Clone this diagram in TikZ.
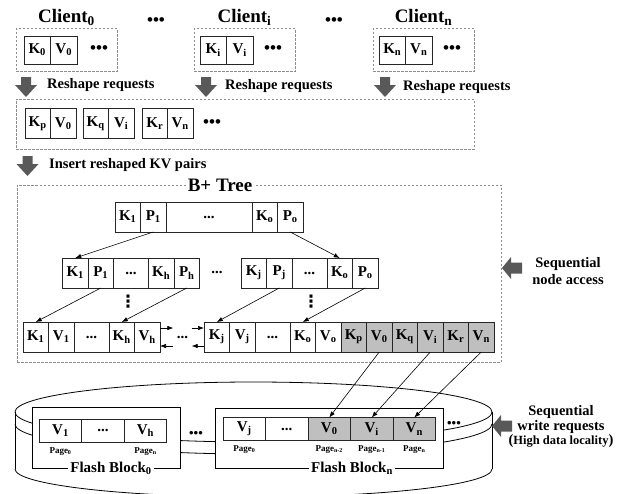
\documentclass[tikz,border=0pt]{standalone}
\usepackage{fontspec}
\setmainfont{Liberation Serif}
\newfontfamily\dotsfont{DejaVu Sans}
\usetikzlibrary{arrows.meta,positioning}
\newcommand{\kvi}[2]{#1\textsubscript{#2}}

\begin{document}
\begin{tikzpicture}[
    x=1pt, y=-1pt,
    every node/.style={font=\bfseries\fontsize{15}{17}\selectfont},
    cell/.style={
      draw=black!85, line width=0.8pt,
      minimum width=25.5pt, minimum height=30pt,
      inner sep=0pt, outer sep=0pt
    },
    ccell/.style={cell, minimum width=26.5pt, minimum height=28pt},
    wcell/.style={cell, minimum width=35pt},
    gcell/.style={cell, fill=gray!50},
    pcell/.style={cell, minimum width=42.5pt, minimum height=23pt},
    dbox/.style={
      draw=black!45, line width=0.7pt, dash pattern=on 2.5pt off 1.5pt,
      inner sep=0pt, outer sep=0pt
    },
    fblock/.style={draw, fill=white, line width=0.8pt, inner sep=0pt},
    title/.style={font=\bfseries\fontsize{19}{21}\selectfont, inner sep=1pt},
    note/.style={font=\bfseries\fontsize{14.5}{17}\selectfont, inner sep=1pt},
    pagelab/.style={font=\bfseries\fontsize{9}{10}\selectfont, inner sep=1pt},
    bullets/.style={font=\bfseries\fontsize{17}{17}\selectfont, inner sep=0pt},
    vdotsnode/.style={font=\dotsfont\bfseries\fontsize{17}{17}\selectfont, inner sep=0pt},
    fatdown/.pic={
      \fill[black!65] (-5,0) -- (5,0) -- (5,8) -- (11,8) -- (0,20)
        -- (-11,8) -- (-5,8) -- cycle;
    },
    fatleft/.pic={
      \fill[black!65] (0,0) -- (9,-11) -- (9,-5.5) -- (20,-5.5) -- (20,5.5)
        -- (9,5.5) -- (9,11) -- cycle;
    },
    arrow/.style={-{Latex[length=6pt,width=4.5pt]}, line width=0.6pt}
  ]
    \useasboundingbox (0,0) rectangle (620,493);

    % clients
    \node[dbox, minimum width=101pt, minimum height=43pt] (client0) at (66.5,50) {};
    \node[dbox, minimum width=101pt, minimum height=43pt] (clienti) at (244.5,50) {};
    \node[dbox, minimum width=101pt, minimum height=43pt] (clientn) at (423.5,50) {};
    \node[title, above=2pt of client0] (name0) {Client\textsubscript{0}};
    \node[title, above=2pt of clienti] (namei) {Client\textsubscript{i}};
    \node[title, above=2pt of clientn] (namen) {Client\textsubscript{n}};
    \node[bullets] (gap1) at (156,22) {•••};
    \node[bullets] (gap2) at (334,22) {•••};

    \node[ccell] (c0k) at (37.25,50) {\kvi{K}{0}};
    \node[ccell, right=0pt of c0k] (c0v) {\kvi{V}{0}};
    \node[bullets, right=13pt of c0v] (c0d) {•••};
    \node[ccell] (cik) at (213.25,50) {\kvi{K}{i}};
    \node[ccell, right=0pt of cik] (civ) {\kvi{V}{i}};
    \node[bullets, right=11pt of civ] (cid) {•••};
    \node[ccell] (cnk) at (392.25,50) {\kvi{K}{n}};
    \node[ccell, right=0pt of cnk] (cnv) {\kvi{V}{n}};
    \node[bullets, right=11pt of cnv] (cnd) {•••};

    % reshaping
    \pic (down0) at (26,77) {fatdown};
    \pic (down1) at (206,77) {fatdown};
    \pic (down2) at (385,77) {fatdown};
    \node[note, anchor=west] (reshape0) at (46,85) {Reshape requests};
    \node[note, anchor=west] (reshape1) at (224,86) {Reshape requests};
    \node[note, anchor=west] (reshape2) at (402,87) {Reshape requests};

    \node[dbox, minimum width=458pt, minimum height=50pt] (reshaped) at (245,124) {};
    \node[cell] (rkp) at (37.75,123.5) {\kvi{K}{p}};
    \node[cell, right=0pt of rkp] (rv0) {\kvi{V}{0}};
    \node[cell, right=7pt of rv0] (rkq) {\kvi{K}{q}};
    \node[cell, right=0pt of rkq] (rvi) {\kvi{V}{i}};
    \node[cell, right=8pt of rvi] (rkr) {\kvi{K}{r}};
    \node[cell, right=0pt of rkr] (rvn) {\kvi{V}{n}};
    \node[bullets, right=10pt of rvn] (rdd) {•••};

    \pic (down3) at (27.5,156) {fatdown};
    \node[note, anchor=west] (insert) at (48,165) {Insert reshaped KV pairs};

    % B+ tree
    \node[dbox, minimum width=484pt, minimum height=177pt] (btree) at (259,273.5) {};
    \node[title, fill=white, inner sep=2pt] (btitle) at (220,185) {B+ Tree};

    \node[cell] (rk1) at (127.75,217) {\kvi{K}{1}};
    \node[cell, right=0pt of rk1] (rp1) {\kvi{P}{1}};
    \node[cell, minimum width=86pt, right=0pt of rp1] (rdots) {...};
    \node[cell, right=0pt of rdots] (rko) {\kvi{K}{o}};
    \node[cell, right=0pt of rko] (rpo) {\kvi{P}{o}};

    \node[cell] (lk1) at (75.25,273) {\kvi{K}{1}};
    \node[cell, right=0pt of lk1] (lp1) {\kvi{P}{1}};
    \node[wcell, right=0pt of lp1] (ldots) {...};
    \node[cell, right=0pt of ldots] (lkh) {\kvi{K}{h}};
    \node[cell, right=0pt of lkh] (lph) {\kvi{P}{h}};
    \node (midgap) at (217,272) {...};
    \node[cell] (mkj) at (253.75,273) {\kvi{K}{j}};
    \node[cell, right=0pt of mkj] (mpj) {\kvi{P}{j}};
    \node[wcell, right=0pt of mpj] (mdots) {...};
    \node[cell, right=0pt of mdots] (mko) {\kvi{K}{o}};
    \node[cell, right=0pt of mko] (mpo) {\kvi{P}{o}};

    \node[vdotsnode] (vdl) at (128,302) {⋮};
    \node[vdotsnode] (vdr) at (311,302) {⋮};

    \node[cell] (ak1) at (35.75,337) {\kvi{K}{1}};
    \node[cell, right=0pt of ak1] (av1) {\kvi{V}{1}};
    \node[wcell, right=0pt of av1] (adots) {...};
    \node[cell, right=0pt of adots] (akh) {\kvi{K}{h}};
    \node[cell, right=0pt of akh] (avh) {\kvi{V}{h}};
    \node[minimum width=18pt, inner sep=0pt] (leafgap) at (182.5,337) {...};
    \node[cell] (bkj) at (216.75,337) {\kvi{K}{j}};
    \node[cell, right=0pt of bkj] (bvj) {\kvi{V}{j}};
    \node[wcell, right=0pt of bvj] (bdots) {...};
    \node[cell, right=0pt of bdots] (bko) {\kvi{K}{o}};
    \node[cell, right=0pt of bko] (bvo) {\kvi{V}{o}};
    \node[gcell, right=0pt of bvo] (bkp) {\kvi{K}{p}};
    \node[gcell, right=0pt of bkp] (bv0) {\kvi{V}{0}};
    \node[gcell, right=0pt of bv0] (bkq) {\kvi{K}{q}};
    \node[gcell, right=0pt of bkq] (bvi) {\kvi{V}{i}};
    \node[gcell, right=0pt of bvi] (bkr) {\kvi{K}{r}};
    \node[gcell, right=0pt of bkr] (bvn) {\kvi{V}{n}};

    \draw[arrow] (rp1.south) -- (lk1.north);
    \draw[arrow] (rpo.south) -- (mko.north);
    \draw[arrow] (lp1.south) -- (ak1.north);
    \draw[arrow] (lph.south) -- (akh.north);
    \draw[arrow] (mpj.south) -- (bkj.north);
    \draw[arrow] (mpo.south) -- (bko.north);
    \draw[arrow] ([yshift=9pt]avh.east) -- ([yshift=9pt]leafgap.west);
    \draw[arrow] ([yshift=9pt]leafgap.east) -- ([yshift=9pt]bkj.west);
    \draw[arrow] ([yshift=-9pt]leafgap.west) -- ([yshift=-9pt]avh.east);
    \draw[arrow] ([yshift=-9pt]bkj.west) -- ([yshift=-9pt]leafgap.east);

    % flash disk
    \draw[line width=0.8pt] (253.5,412) ellipse [x radius=238.5, y radius=30];
    \draw[line width=0.8pt] (15,424) arc[start angle=180, end angle=0, x radius=238.5, y radius=30];
    \draw[line width=0.8pt] (15,469) arc[start angle=180, end angle=0, x radius=238.5, y radius=28];
    \draw[line width=0.8pt] (15,412) -- (15,469);
    \draw[line width=0.8pt] (492,412) -- (492,469);

    \node[fblock, minimum width=148pt, minimum height=61pt] (blk0) at (106,437.5) {};
    \node[fblock, minimum width=228pt, minimum height=60pt] (blkn) at (329,438) {};
    \node[fill=white, inner sep=2pt] (blk0name) at (111,468) {Flash Block\textsubscript{0}};
    \node[fill=white, inner sep=2pt] (blknname) at (352,468) {Flash Block\textsubscript{n}};
    \node[bullets, font=\bfseries\fontsize{13}{13}\selectfont] (diskgap1) at (196,434) {•••};
    \node[bullets, font=\bfseries\fontsize{13}{13}\selectfont] (diskgap2) at (454,424) {•••};

    \node[pcell] (f0v1) at (60.5,430.5) {\kvi{V}{1}};
    \node[pcell, right=0pt of f0v1] (f0dots) {...};
    \node[pcell, right=0pt of f0dots] (f0vh) {\kvi{V}{h}};
    \node[pagelab, below=4pt of f0v1] (pg01) {Page\textsubscript{0}};
    \node[pagelab, below=4pt of f0vh] (pg0h) {Page\textsubscript{n}};

    \node[pcell] (fnvj) at (244.25,429) {\kvi{V}{j}};
    \node[pcell, right=0pt of fnvj] (fndots) {...};
    \node[pcell, fill=gray!50, right=0pt of fndots] (fnv0) {\kvi{V}{0}};
    \node[pcell, fill=gray!50, right=0pt of fnv0] (fnvi) {\kvi{V}{i}};
    \node[pcell, fill=gray!50, right=0pt of fnvi] (fnvn) {\kvi{V}{n}};
    \node[pagelab, below=4pt of fnvj] (pgnj) {Page\textsubscript{0}};
    \node[pagelab, below=4pt of fnv0] (pgn0) {Page\textsubscript{n-2}};
    \node[pagelab, below=4pt of fnvi] (pgni) {Page\textsubscript{n-1}};
    \node[pagelab, below=4pt of fnvn] (pgnn) {Page\textsubscript{n}};

    \draw[arrow] (bv0.south) -- (fnv0.north);
    \draw[arrow] (bvi.south) -- (fnvi.north);
    \draw[arrow] (bvn.south) -- (fnvn.north);

    % side notes
    \pic (left0) at (502,268) {fatleft};
    \node[note, align=center] (seqnode) at (568,271) {Sequential\\node access};
    \pic (left1) at (492,426) {fatleft};
    \node[note, align=center, font=\bfseries\fontsize{14.5}{14.5}\selectfont] (seqwrite) at (561,427)
      {Sequential\\write requests\\({\fontsize{12.5}{13}\selectfont High data locality})};

  \end{tikzpicture}
\end{document}
